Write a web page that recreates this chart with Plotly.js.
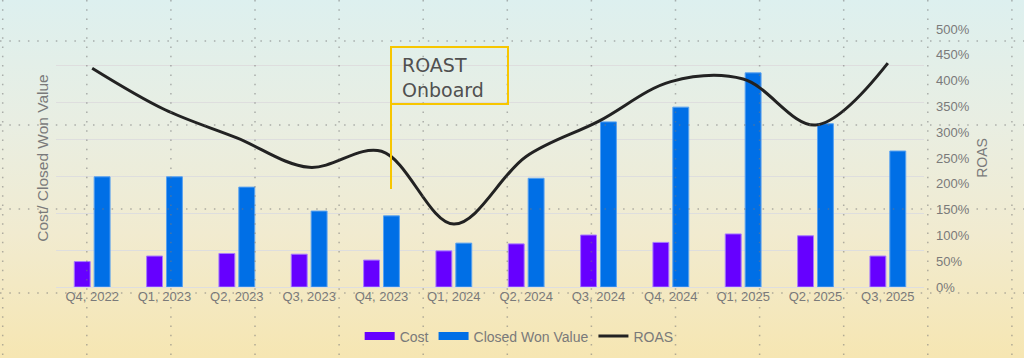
<!DOCTYPE html>
<html>
<head>
<meta charset="utf-8">
<script src="https://cdn.plot.ly/plotly-3.0.1.min.js"></script>
<style>
  html, body { margin: 0; padding: 0; width: 1024px; height: 358px; overflow: hidden;
    background: linear-gradient(to bottom, #ddf0ef 0%, #e9eee2 35%, #f1ebd0 65%, #f6e6b2 100%); }
  #chart { width: 1024px; height: 358px; }
</style>
</head>
<body>
<div id="chart"></div>
<script>
// ---- data ----
const quarters = ["Q4, 2022", "Q1, 2023", "Q2, 2023", "Q3, 2023", "Q4, 2023", "Q1, 2024",
                  "Q2, 2024", "Q3, 2024", "Q4, 2024", "Q1, 2025", "Q2, 2025", "Q3, 2025"];
const cost = [69, 84, 91, 89, 73, 98, 117, 141, 121, 144, 139, 84];
const closedWon = [299, 299, 271, 206, 193, 119, 295, 448, 488, 581, 443, 369];
const roas = [4.24, 3.44, 2.89, 2.32, 2.63, 1.22, 2.53, 3.21, 3.98, 4.03, 3.14, 4.34];
const annotationText = "ROAST<br>Onboard";

// ---- layout helpers (pixel -> paper) ----
const W = 1024, H = 358, L = 56, R = 100, T = 29, B = 71;
const pw = W - L - R, ph = H - T - B;
const px = x => (x - L) / pw;
const py = y => (H - B - y) / ph;

const shapes = [];
const dotStyle = { color: "rgba(120,120,120,0.55)", width: 1.5, dash: "1.5px,7.8px" };
for (let k = 0; k <= 12; k++) {
  const x = 2.7 + 84.1 * k;
  shapes.push({ type: "line", xref: "paper", yref: "paper", x0: px(x), x1: px(x), y0: py(0), y1: py(H),
    line: dotStyle, layer: "above" });
}
[41, 125, 209, 293].forEach(y => {
  shapes.push({ type: "line", xref: "paper", yref: "paper", x0: px(0), x1: px(W), y0: py(y), y1: py(y),
    line: dotStyle, layer: "above" });
});
// annotation box + pointer line
const gold = "#f7c600";
shapes.push({ type: "rect", xref: "paper", yref: "paper", x0: px(391), x1: px(508), y0: py(104), y1: py(47),
  line: { color: gold, width: 2 }, fillcolor: "rgba(0,0,0,0)", layer: "above" });
shapes.push({ type: "line", xref: "paper", yref: "paper", x0: px(391), x1: px(391), y0: py(104), y1: py(189),
  line: { color: gold, width: 2 }, layer: "above" });

const costColor = "#6600ff", wonColor = "#006fe6";
const traces = [
  { type: "bar", name: "Cost", x: quarters, y: cost, showlegend: false,
    marker: { color: costColor, line: { color: "#a77bff", width: 1 } } },
  { type: "bar", name: "Closed Won Value", x: quarters, y: closedWon, showlegend: false,
    marker: { color: wonColor, line: { color: "#5aa2f0", width: 1 } } },
  { type: "scatter", mode: "lines", name: "ROAS", x: quarters, y: roas, yaxis: "y2", showlegend: false,
    line: { color: "#222222", width: 3, shape: "spline", smoothing: 1 } },
  // legend entries (wide swatches like the reference)
  { type: "scatter", mode: "lines", name: "Cost", x: [quarters[0]], y: [null],
    line: { color: costColor, width: 8 }, hoverinfo: "skip" },
  { type: "scatter", mode: "lines", name: "Closed Won Value", x: [quarters[0]], y: [null],
    line: { color: wonColor, width: 8 }, hoverinfo: "skip" },
  { type: "scatter", mode: "lines", name: "ROAS", x: [quarters[0]], y: [null], yaxis: "y2",
    line: { color: "#222222", width: 3 }, hoverinfo: "skip" }
];

const tickFont = { family: "Liberation Sans, Arial, sans-serif", size: 13, color: "#7a7a7a" };

const layout = {
  width: W, height: H,
  margin: { l: L, r: R, t: T, b: B, pad: 0 },
  paper_bgcolor: "rgba(0,0,0,0)",
  plot_bgcolor: "rgba(0,0,0,0)",
  barmode: "group", bargap: 0.45, bargroupgap: 0.2,
  font: tickFont,
  xaxis: { type: "category", showgrid: false, showline: false, zeroline: false, ticks: "",
    tickfont: tickFont, automargin: false, fixedrange: true },
  yaxis: { range: [0, 700], dtick: 100, showticklabels: false, ticks: "", showline: false,
    gridcolor: "#dedede", gridwidth: 1, zeroline: true, zerolinecolor: "#dedede", zerolinewidth: 1,
    automargin: false,
    title: { text: "Cost/ Closed Won Value", standoff: 2,
      font: { family: "Liberation Sans, Arial, sans-serif", size: 15.5, color: "#7a7a7a" } } },
  yaxis2: { overlaying: "y", side: "right", range: [0, 5], dtick: 0.5, tickformat: ".0%",
    showgrid: false, zeroline: false, showline: false, ticks: "", ticklabelstandoff: 11,
    tickfont: tickFont, automargin: false,
    title: { text: "ROAS", standoff: 8,
      font: { family: "Liberation Sans, Arial, sans-serif", size: 14, color: "#7a7a7a" } } },
  showlegend: true,
  legend: { orientation: "h", xref: "container", yref: "container", x: 0.507, xanchor: "center",
    y: 0.06, yanchor: "middle", font: { family: "Liberation Sans, Arial, sans-serif", size: 14, color: "#7a7a7a" },
    bgcolor: "rgba(0,0,0,0)", traceorder: "normal", itemwidth: 30 },
  shapes: shapes,
  annotations: [{ xref: "paper", yref: "paper", x: px(400), y: py(52), xanchor: "left", yanchor: "top",
    text: annotationText, showarrow: false, align: "left",
    font: { family: "DejaVu Sans, sans-serif", size: 19, color: "#505050" } }]
};

Plotly.newPlot("chart", traces, layout, { displayModeBar: false, staticPlot: true });
</script>
</body>
</html>
